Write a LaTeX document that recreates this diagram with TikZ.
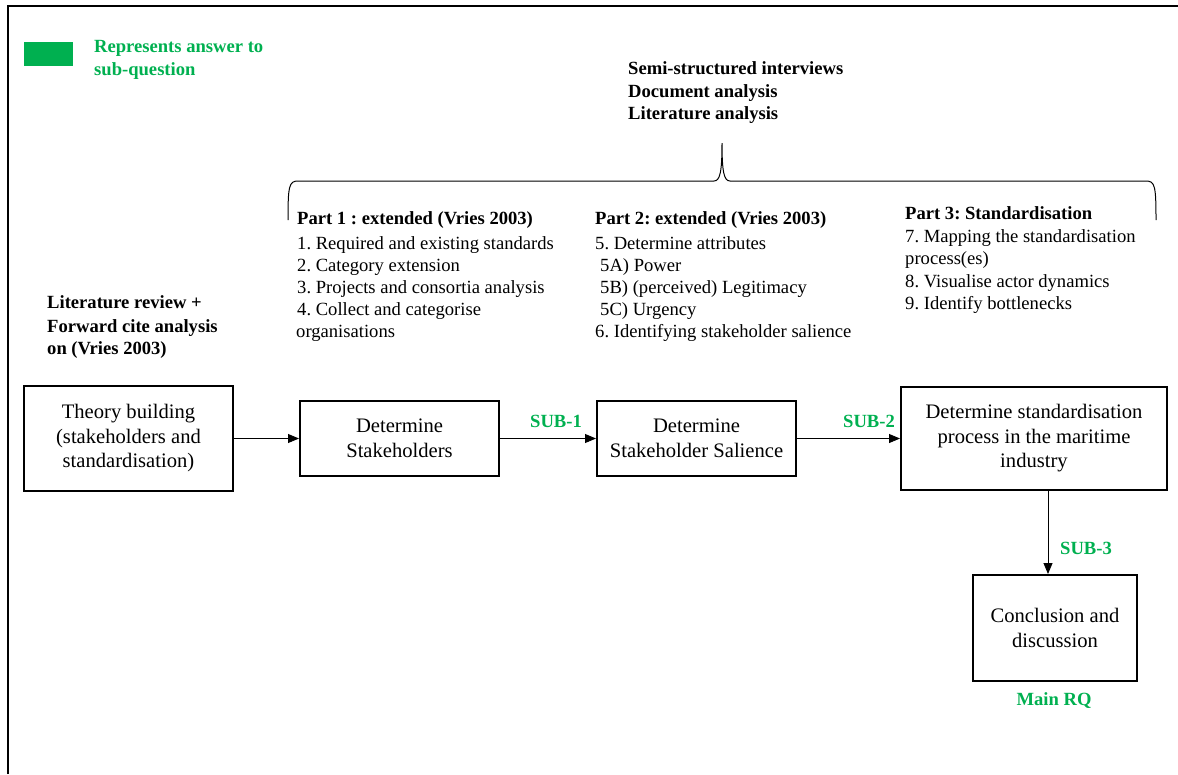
\documentclass[tikz,border=0pt]{standalone}
\usepackage{fontspec}
\setmainfont{Liberation Serif}
\usetikzlibrary{arrows.meta}
\frenchspacing
\definecolor{subgreen}{RGB}{0,176,80}
\tikzset{
  stagebox/.style={draw=black, line width=2pt, align=center, inner sep=2pt,
    font=\fontsize{20.6}{24.5}\selectfont},
  listline/.style={anchor=base west, inner sep=0pt, font=\fontsize{18.6}{22}\selectfont},
  headline/.style={listline, font=\fontsize{18.6}{22}\selectfont\bfseries},
  sublabel/.style={inner sep=0pt, text=subgreen, font=\fontsize{18.6}{22}\selectfont\bfseries},
  flow/.style={draw=black, line width=0.9pt, -{Triangle[length=11pt,width=9pt]}},
}
\begin{document}
\begin{tikzpicture}[x=1pt,y=-1pt]
\useasboundingbox (0,0) rectangle (1178,774);
% page frame (top and left edges)
\draw[line width=2pt] (8,774) -- (8,6) -- (1178,6);

% legend
\fill[subgreen] (24,42) rectangle (73,66);
\node[sublabel, anchor=base west] (leg1) at (94,52) {Represents answer to};
\node[sublabel, anchor=base west] (leg2) at (94,75) {sub-question};

% data sources
\node[headline] (src1) at (628,74) {Semi-structured interviews};
\node[headline] (src2) at (628,97) {Document analysis};
\node[headline] (src3) at (628,119) {Literature analysis};

% brace over the three parts
\draw[line width=1pt] (288,220) .. controls (288,186) and (289,181) .. (298,181)
  -- (714,181) .. controls (720,181) and (722,172) .. (722,143)
  .. controls (722,172) and (724,181) .. (730,181)
  -- (1146,181) .. controls (1155,181) and (1156,186) .. (1156,220);

% part 1
\node[headline] (p1h) at (297,224) {Part 1 : extended (Vries 2003)};
\node[listline] (p1a) at (297,249) {1. Required and existing standards};
\node[listline] (p1b) at (297,271) {2. Category extension};
\node[listline] (p1c) at (297,293) {3. Projects and consortia analysis};
\node[listline] (p1d) at (297,315) {4. Collect and categorise};
\node[listline] (p1e) at (296,337) {organisations};

% part 2
\node[headline] (p2h) at (595,224) {Part 2: extended (Vries 2003)};
\node[listline] (p2a) at (595,249) {5. Determine attributes};
\node[listline] (p2b) at (600,271) {5A) Power};
\node[listline] (p2c) at (600,293) {5B) (perceived) Legitimacy};
\node[listline] (p2d) at (600,315) {5C) Urgency};
\node[listline] (p2e) at (595,337) {6. Identifying stakeholder salience};

% part 3
\node[headline] (p3h) at (905,219) {Part 3: Standardisation};
\node[listline] (p3a) at (905,242) {7. Mapping the standardisation};
\node[listline] (p3b) at (905,264) {process(es)};
\node[listline] (p3c) at (905,287) {8. Visualise actor dynamics};
\node[listline] (p3d) at (905,309) {9. Identify bottlenecks};

% literature input
\node[headline] (lit1) at (47,308) {Literature review +};
\node[headline] (lit2) at (47,332) {Forward cite analysis};
\node[headline] (lit3) at (47,354) {on (Vries 2003)};

% stages
\node[stagebox, minimum width=209pt, minimum height=105pt] (theory) at (128.5,438.5)
  {Theory building\\(stakeholders and\\standardisation)};
\node[stagebox, minimum width=199pt, minimum height=75pt] (stake) at (399.5,438.5)
  {Determine\\Stakeholders};
\node[stagebox, minimum width=199pt, minimum height=75pt] (salience) at (696.5,438.5)
  {Determine\\Stakeholder Salience};
\node[stagebox, minimum width=266pt, minimum height=103pt] (process) at (1034,438.5)
  {Determine standardisation\\process in the maritime\\industry};
\node[stagebox, minimum width=164pt, minimum height=106pt] (concl) at (1055,628)
  {Conclusion and\\discussion};

% connectors
\coordinate (down) at (1048,0);
\draw[flow] (theory.east) -- (stake.west);
\draw[flow] (stake.east) -- (salience.west);
\draw[flow] (salience.east) -- (process.west |- salience.east);
\draw[flow] (process.south -| down) -- (concl.north -| down);

% sub-question labels
\node[sublabel] (sub1) at (556,421) {SUB-1};
\node[sublabel] (sub2) at (869,421) {SUB-2};
\node[sublabel] (sub3) at (1086,548) {SUB-3};
\node[sublabel] (mainrq) at (1054,701) {Main RQ};
\end{tikzpicture}
\end{document}
